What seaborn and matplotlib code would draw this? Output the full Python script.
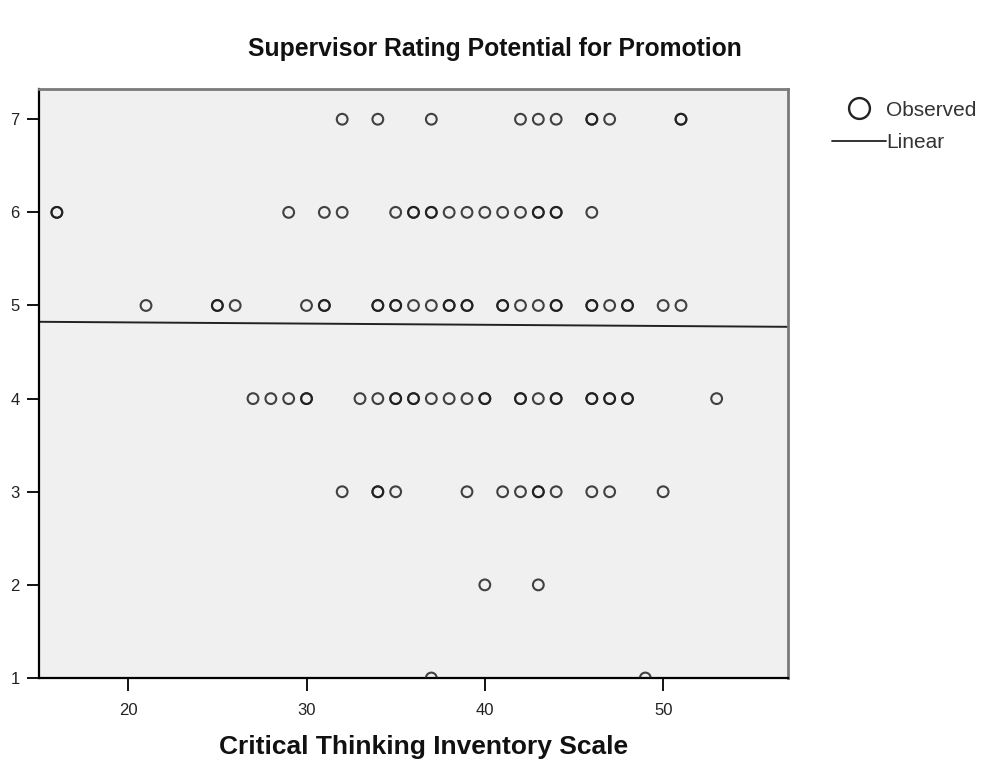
import numpy as np
import pandas as pd
import matplotlib
matplotlib.use("Agg")
import matplotlib.pyplot as plt
import seaborn as sns
from matplotlib.lines import Line2D

# ---- data (bold circles in the reference = repeated cases) ----
x_r7 = [32, 34, 37, 42, 43, 44, 46, 46, 47, 51, 51]
x_r6 = [16, 16, 29, 31, 32, 35, 36, 36, 37, 37, 38, 39, 40, 41, 42, 43, 43, 44, 44, 46]
x_r5 = [21, 25, 25, 26, 30, 31, 31, 34, 34, 35, 35, 36, 37, 38, 38, 39, 39, 41, 41, 42,
        43, 44, 44, 46, 46, 47, 48, 48, 50, 51]
x_r4 = [27, 28, 29, 30, 30, 33, 34, 35, 35, 36, 36, 37, 38, 39, 40, 40, 42, 42, 43, 44, 44,
        46, 46, 47, 47, 48, 48, 53]
x_r3 = [32, 34, 34, 35, 39, 41, 42, 43, 43, 44, 46, 47, 50]
x_r2 = [40, 43]
x_r1 = [37, 49]
ratings = [7, 6, 5, 4, 3, 2, 1]

# linear fit (value at x = 15 and at x = 57)
fit_x = [15, 57]
fit_y = [4.825, 4.771]

title = "Supervisor Rating Potential for Promotion"
xlabel = "Critical Thinking Inventory Scale"
xticks = [20, 30, 40, 50]
yticks = [1, 2, 3, 4, 5, 6, 7]

rows = [x_r7, x_r6, x_r5, x_r4, x_r3, x_r2, x_r1]
df = pd.DataFrame({
    "cti": [v for r in rows for v in r],
    "rating": [rt for r, rt in zip(rows, ratings) for _ in r],
})
fit = pd.DataFrame({"cti": fit_x, "rating": fit_y})

sns.set_style("white")
plt.rcParams["font.family"] = ["Liberation Sans", "DejaVu Sans"]

fig = plt.figure(figsize=(9.83, 7.63), dpi=100)
ax = fig.add_axes([0.0397, 0.1114, 0.7619, 0.7726])
ax.set_facecolor("#f0f0f0")

sns.scatterplot(data=df, x="cti", y="rating", ax=ax, marker="o", s=60,
                facecolor="none", edgecolor=(0.1, 0.1, 0.1, 0.82), linewidth=1.5,
                legend=False, zorder=3)
sns.lineplot(data=fit, x="cti", y="rating", ax=ax, color="#222222", linewidth=1.4,
             zorder=2)

ax.set_xlim(15, 57)
ax.set_ylim(1, 7.33)
ax.set_xticks(xticks)
ax.set_yticks(yticks)
ax.set_xlabel(xlabel, fontsize=19, fontweight="bold", labelpad=12, color="#111111")
ax.xaxis.label.set_x(0.513)
ax.set_ylabel("")
ax.tick_params(axis="both", which="both", direction="out", length=9, width=1.3,
               color="black", labelsize=12, bottom=True, left=True,
               labelcolor="#222222")
ax.tick_params(axis="x", pad=9)
ax.tick_params(axis="y", pad=5)
for s in ["left", "bottom"]:
    ax.spines[s].set_color("black")
    ax.spines[s].set_linewidth(1.6)
for s in ["top", "right"]:
    ax.spines[s].set_color("#7a7a7a")
    ax.spines[s].set_linewidth(2.0)

fig.text(0.503, 0.936, title, ha="center", va="center", fontsize=17.8,
         fontweight="bold", color="#111111")

handles = [
    Line2D([], [], marker="o", linestyle="none", markersize=15, markerfacecolor="none",
           markeredgecolor="#222222", markeredgewidth=1.7),
    Line2D([], [], color="#222222", linewidth=1.3),
]
fig.legend(handles, ["Observed", "Linear"], loc="upper left",
           bbox_to_anchor=(0.846, 0.868), frameon=False, fontsize=15,
           handlelength=2.6, handletextpad=0.0, labelspacing=0.65,
           labelcolor="#333333", borderaxespad=0, borderpad=0)

fig.savefig("out.png", dpi=100)
